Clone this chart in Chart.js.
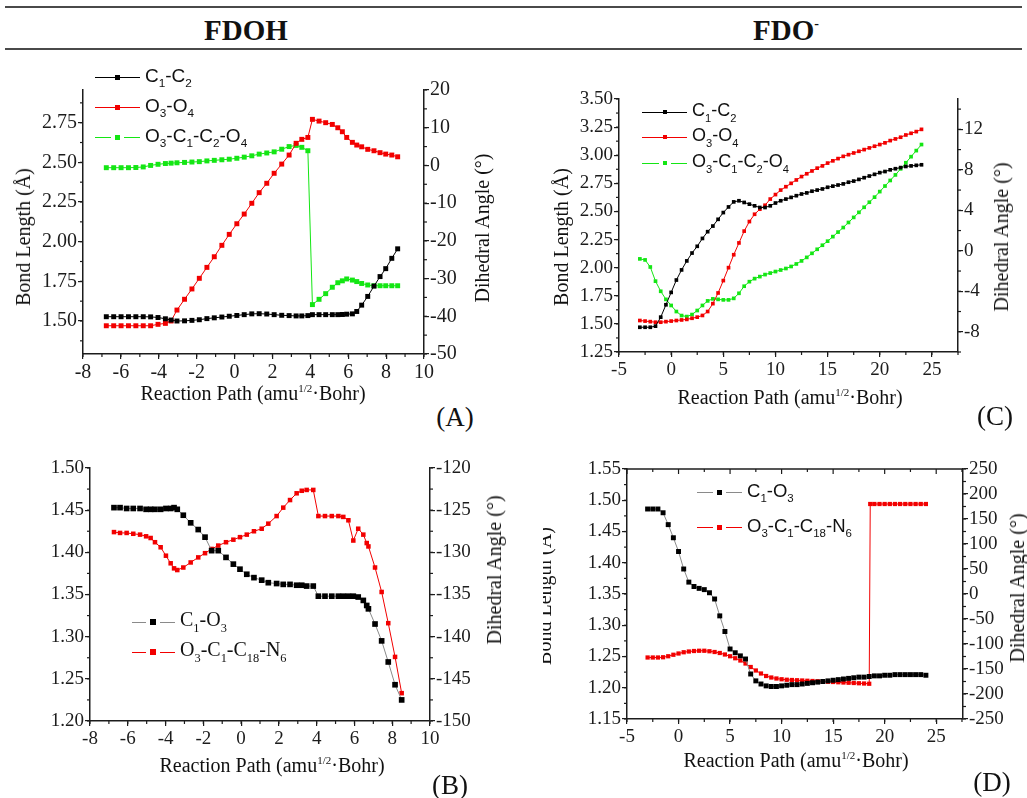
<!DOCTYPE html>
<html>
<head>
<meta charset="utf-8">
<title>FDOH / FDO- reaction path</title>
<script src="https://cdn.jsdelivr.net/npm/chart.js@4.4.1/dist/chart.umd.min.js"></script>
<style>
  html, body { margin: 0; padding: 0; background: #fff; }
  body { position: relative; width: 1027px; height: 798px; overflow: hidden; font-family: "Liberation Serif", "Times New Roman", serif; color: #111; }
  canvas { position: absolute; }
  .rule { position: absolute; left: 5px; width: 1017px; height: 2px; background: #4a4a4a; }
  .t { position: absolute; white-space: nowrap; transform: translate(-50%, -50%); line-height: 1; }
  .v { transform: translate(-50%, -50%) rotate(-90deg); }
  .head { font-weight: bold; font-size: 29px; }
  .ax { font-size: 20px; }
  .tag { font-size: 27px; }
  sup.s { font-size: 0.55em; vertical-align: 0.75em; }
  .lg { position: absolute; white-space: nowrap; line-height: 1; transform: translateY(-50%); color: #111; }
  .lg sub { font-size: 0.62em; vertical-align: -0.45em; }
  .clip { position: absolute; overflow: hidden; }
</style>
</head>
<body>

<div class="rule" style="top:6px"></div>
<div class="rule" style="top:48px"></div>
<div class="t head" style="left:246px;top:30px">FDOH</div>
<div class="t head" style="left:786px;top:30px">FDO<sup style="font-size:14px;vertical-align:12px">-</sup></div>

<canvas id="chartA" width="500" height="314" style="left:0px;top:76px"></canvas>
<canvas id="chartB" width="500" height="303" style="left:0px;top:454px"></canvas>
<canvas id="chartC" width="507" height="303" style="left:520px;top:85px"></canvas>
<canvas id="chartD" width="507" height="300" style="left:520px;top:455px"></canvas>

<div class="t ax v" style="left:23px;top:237px">Bond Length (Å)</div>
<div class="t ax v" style="left:482px;top:228px">Dihedral Angle (°)</div>
<div class="t ax" style="left:253px;top:393px">Reaction Path (amu<sup class="s">1/2</sup>·Bohr)</div>
<div class="t tag" style="left:455px;top:417px">(A)</div>

<div class="t ax v" style="left:494px;top:570px">Dihedral Angle (°)</div>
<div class="t ax" style="left:272px;top:765px">Reaction Path (amu<sup class="s">1/2</sup>·Bohr)</div>
<div class="t tag" style="left:450px;top:785px">(B)</div>

<div class="t ax v" style="left:561px;top:237px">Bond Length (Å)</div>
<div class="t ax v" style="left:1001px;top:237px">Dihedral Angle (°)</div>
<div class="t ax" style="left:790px;top:397px">Reaction Path (amu<sup class="s">1/2</sup>·Bohr)</div>
<div class="t tag" style="left:995px;top:416px">(C)</div>

<div class="clip" style="left:543px;top:420px;width:60px;height:378px">
  <div class="t ax v" style="left:1px;top:176px">Bond Length (Å)</div>
</div>
<div class="t ax v" style="left:1017px;top:588px">Dihedral Angle (°)</div>
<div class="t ax" style="left:796px;top:760px">Reaction Path (amu<sup class="s">1/2</sup>·Bohr)</div>
<div class="t tag" style="left:992px;top:782px">(D)</div>

<script>
// ---------- data ----------
// (A) FDOH: C1-C2 and O3-O4 bond lengths (Å), O3-C1-C2-O4 dihedral (°)
const aPath = [-6.77, -6.38, -5.99, -5.60, -5.21, -4.82, -4.43, -4.04, -3.65, -3.35, -3.04, -2.64, -2.25, -1.86, -1.46,
  -1.07, -0.67, -0.28, 0.12, 0.51, 0.91, 1.30, 1.70, 2.09, 2.49, 2.88, 3.25, 3.55, 3.87, 4.11, 4.46, 4.81, 5.16,
  5.45, 5.69, 5.92, 6.22, 6.45, 6.71, 7.03, 7.36, 7.68, 7.98, 8.30, 8.61];
const aC1C2 = [1.527, 1.527, 1.527, 1.527, 1.527, 1.527, 1.526, 1.522, 1.514, 1.506, 1.500, 1.501, 1.504, 1.508, 1.515,
  1.520, 1.525, 1.530, 1.535, 1.540, 1.545, 1.546, 1.544, 1.540, 1.536, 1.534, 1.532, 1.532, 1.534, 1.540, 1.540, 1.540, 1.540,
  1.540, 1.541, 1.543, 1.545, 1.560, 1.600, 1.655, 1.720, 1.780, 1.830, 1.895, 1.955];
const aO3O4 = [1.470, 1.470, 1.470, 1.470, 1.470, 1.470, 1.470, 1.479, 1.485, 1.500, 1.569, 1.637, 1.702, 1.769, 1.838,
  1.905, 1.977, 2.046, 2.113, 2.174, 2.242, 2.309, 2.368, 2.431, 2.489, 2.546, 2.620, 2.645, 2.657, 2.771, 2.760, 2.750, 2.739,
  2.718, 2.693, 2.657, 2.626, 2.609, 2.598, 2.582, 2.573, 2.561, 2.552, 2.546, 2.535];
const aDihedral = [-0.6, -0.6, -0.6, -0.6, -0.55, -0.4, 0.0, 0.3, 0.5, 0.6, 0.7, 0.8, 0.9, 1.0, 1.2,
  1.35, 1.5, 1.65, 1.9, 2.2, 2.55, 3.0, 3.3, 3.6, 4.3, 5.0, 5.3, 4.8, 3.9, -36.9, -35.5, -34.0, -32.3,
  -31.1, -30.6, -30.1, -30.4, -30.8, -31.3, -31.7, -31.9, -31.9, -31.9, -31.9, -31.9];

// (B) FDOH: C1-O3 bond length (Å), O3-C1-C18-N6 dihedral (°)
const bPath = [-6.73, -6.41, -6.06, -5.71, -5.35, -5.03, -4.79, -4.56, -4.26, -3.98, -3.73, -3.55, -3.38, -3.06, -2.67,
  -2.27, -1.91, -1.56, -1.21, -0.80, -0.41, -0.06, 0.30, 0.68, 1.09, 1.44, 1.88, 2.23, 2.59, 2.94, 3.21, 3.47, 3.82,
  4.09, 4.44, 4.80, 5.15, 5.41, 5.68, 5.94, 6.20, 6.47, 6.65, 6.74, 7.09, 7.44, 7.79, 8.15, 8.50];
const bC1O3 = [1.453, 1.453, 1.452, 1.452, 1.452, 1.451, 1.451, 1.451, 1.451, 1.452, 1.452, 1.453, 1.451, 1.444, 1.435,
  1.427, 1.418, 1.402, 1.402, 1.394, 1.386, 1.380, 1.374, 1.370, 1.367, 1.364, 1.363, 1.362, 1.362, 1.361, 1.361, 1.360, 1.360,
  1.348, 1.348, 1.348, 1.348, 1.348, 1.348, 1.348, 1.347, 1.343, 1.337, 1.333, 1.315, 1.295, 1.270, 1.243, 1.225];
const bDihedral = [-127.6, -127.7, -127.7, -127.8, -127.9, -128.1, -128.3, -128.8, -129.4, -130.4, -131.3, -131.9, -132.1, -131.8, -131.2,
  -130.6, -130.1, -129.6, -129.2, -128.8, -128.5, -128.2, -127.9, -127.5, -127.2, -126.6, -125.7, -124.7, -123.8, -123.0, -122.7, -122.6, -122.6,
  -125.7, -125.7, -125.7, -125.7, -125.8, -126.2, -128.6, -127.2, -127.9, -128.9, -129.3, -131.8, -134.7, -138.4, -142.4, -146.7];

// (C) FDO-: C1-C2 and O3-O4 bond lengths (Å), O3-C1-C2-O4 dihedral (°)
const cPath = [-3, -2.5, -2, -1.5, -1, -0.5, 0, 0.5, 1, 1.5, 2, 2.5, 3, 3.5, 4, 4.5, 5, 5.5, 6, 6.5,
  7, 7.5, 8, 8.5, 9, 9.5, 10, 10.5, 11, 11.5, 12, 12.5, 13, 13.5, 14, 14.5, 15, 15.5, 16, 16.5,
  17, 17.5, 18, 18.5, 19, 19.5, 20, 20.5, 21, 21.5, 22, 22.5, 23, 23.5, 24];
const cC1C2 = [1.47, 1.47, 1.47, 1.48, 1.56, 1.67, 1.78, 1.89, 1.98, 2.06, 2.13, 2.19, 2.26, 2.32, 2.37, 2.43, 2.49, 2.54, 2.585, 2.595,
  2.58, 2.565, 2.55, 2.535, 2.535, 2.55, 2.575, 2.595, 2.61, 2.625, 2.64, 2.655, 2.665, 2.68, 2.69, 2.70, 2.715, 2.725, 2.735, 2.745,
  2.76, 2.77, 2.785, 2.80, 2.815, 2.83, 2.845, 2.855, 2.87, 2.88, 2.89, 2.90, 2.905, 2.91, 2.915];
const cO3O4 = [1.53, 1.525, 1.52, 1.515, 1.515, 1.52, 1.525, 1.53, 1.535, 1.54, 1.55, 1.56, 1.575, 1.61, 1.68, 1.775, 1.885, 2.00, 2.115, 2.22,
  2.325, 2.41, 2.475, 2.52, 2.555, 2.61, 2.65, 2.69, 2.72, 2.75, 2.78, 2.81, 2.835, 2.86, 2.885, 2.905, 2.93, 2.95, 2.97, 2.99,
  3.005, 3.02, 3.035, 3.05, 3.065, 3.08, 3.095, 3.11, 3.13, 3.145, 3.16, 3.18, 3.195, 3.21, 3.23];
const cDihedral = [-0.8, -0.9, -1.6, -3.0, -4.0, -4.8, -5.4, -6.0, -6.4, -6.5, -6.3, -5.9, -5.4, -4.95, -4.75, -4.8, -4.85, -4.85, -4.7, -4.2,
  -3.5, -3.05, -2.75, -2.55, -2.35, -2.2, -2.05, -1.9, -1.75, -1.55, -1.3, -1.0, -0.65, -0.25, 0.15, 0.55, 0.95, 1.4, 1.85, 2.3,
  2.8, 3.3, 3.8, 4.3, 4.8, 5.3, 5.85, 6.4, 6.95, 7.5, 8.1, 8.7, 9.3, 9.9, 10.5];

// (D) FDO-: C1-O3 bond length (Å), O3-C1-C18-N6 dihedral (°)
const dPath = cPath;
const dC1O3 = [1.486, 1.486, 1.486, 1.480, 1.461, 1.440, 1.418, 1.390, 1.369, 1.362, 1.359, 1.357, 1.352, 1.342, 1.315, 1.290, 1.262, 1.256, 1.251, 1.246,
  1.222, 1.211, 1.206, 1.203, 1.202, 1.202, 1.203, 1.204, 1.205, 1.205, 1.206, 1.207, 1.208, 1.209, 1.210, 1.211, 1.212, 1.213, 1.214, 1.215,
  1.216, 1.217, 1.217, 1.218, 1.219, 1.219, 1.220, 1.220, 1.221, 1.221, 1.221, 1.221, 1.221, 1.221, 1.220];
const dDihedralPath = [-3, -2.5, -2, -1.5, -1, -0.5, 0, 0.5, 1, 1.5, 2, 2.5, 3, 3.5, 4, 4.5, 5, 5.5, 6, 6.5,
  7, 7.5, 8, 8.5, 9, 9.5, 10, 10.5, 11, 11.5, 12, 12.5, 13, 13.5, 14, 14.5, 15, 15.5, 16, 16.5,
  17, 17.5, 18, 18.5, 18.6, 19, 19.5, 20, 20.5, 21, 21.5, 22, 22.5, 23, 23.5, 24];
const dDihedral = [-127, -127, -127, -126.5, -124.5, -121.5, -119, -116.5, -115, -114, -113.5, -113.5, -114.5, -116, -118, -121, -124.5, -128.5, -133, -139,
  -146, -153, -159, -164, -167, -169, -170.5, -171.5, -172, -172.5, -173, -173.5, -174, -174.5, -175, -175.5, -176, -176.5, -177, -177.5,
  -178, -178.5, -179, -179.5, 180, 180, 180, 180, 180, 180, 180, 180, 180, 180, 180, 180];

// tick labels
const abXTicks = [-8, -6, -4, -2, 0, 2, 4, 6, 8, 10];
const cdXTicks = [-5, 0, 5, 10, 15, 20, 25];
const aLeftTicks = [1.50, 1.75, 2.00, 2.25, 2.50, 2.75];
const aRightTicks = [-50, -40, -30, -20, -10, 0, 10, 20];
const bLeftTicks = [1.20, 1.25, 1.30, 1.35, 1.40, 1.45, 1.50];
const bRightTicks = [-150, -145, -140, -135, -130, -125, -120];
const cLeftTicks = [1.25, 1.50, 1.75, 2.00, 2.25, 2.50, 2.75, 3.00, 3.25, 3.50];
const cRightTicks = [-8, -4, 0, 4, 8, 12];
const dLeftTicks = [1.15, 1.20, 1.25, 1.30, 1.35, 1.40, 1.45, 1.50, 1.55];
const dRightTicks = [-250, -200, -150, -100, -50, 0, 50, 100, 150, 200, 250];

// legend labels
const labC1C2 = 'C<sub>1</sub>-C<sub>2</sub>';
const labO3O4 = 'O<sub>3</sub>-O<sub>4</sub>';
const labO3C1C2O4 = 'O<sub>3</sub>-C<sub>1</sub>-C<sub>2</sub>-O<sub>4</sub>';
const labC1O3 = 'C<sub>1</sub>-O<sub>3</sub>';
const labO3C1C18N6 = 'O<sub>3</sub>-C<sub>1</sub>-C<sub>18</sub>-N<sub>6</sub>';

// ---------- drawing ----------
const INK = '#1c1c1c';
const RED = '#f20000';
const GREEN = '#14e614';
const GREY = '#8a8a8a';
const SERIF = "'Liberation Serif', 'Times New Roman', Times, serif";
const SANS = '"Liberation Sans", Arial, sans-serif';

Chart.defaults.font.family = SERIF;
Chart.defaults.font.size = 19;
Chart.defaults.color = INK;

// Origin-style minor ticks (and the closed top edge of panel D)
const minorTicks = {
  id: 'minorTicks',
  afterDatasetsDraw(chart, args, o) {
    if (!o || !o.steps) return;
    const ctx = chart.ctx, ca = chart.chartArea;
    ctx.save();
    ctx.strokeStyle = INK;
    ctx.lineWidth = 1.2;
    Object.keys(o.steps).forEach(id => {
      const s = chart.scales[id], st = o.steps[id];
      const k0 = Math.ceil(s.min / st - 1e-6), k1 = Math.floor(s.max / st + 1e-6);
      for (let k = k0; k <= k1; k++) {
        const p = s.getPixelForValue(k * st);
        ctx.beginPath();
        if (id === 'x') { ctx.moveTo(p, ca.bottom); ctx.lineTo(p, ca.bottom + 3); }
        else if (s.position === 'left') { ctx.moveTo(ca.left, p); ctx.lineTo(ca.left - 3, p); }
        else { ctx.moveTo(ca.right, p); ctx.lineTo(ca.right + 3, p); }
        ctx.stroke();
      }
      if (id === 'x' && o.top) {
        ctx.lineWidth = 1.5;
        ctx.beginPath(); ctx.moveTo(ca.left, ca.top); ctx.lineTo(ca.right, ca.top); ctx.stroke();
        ctx.lineWidth = 1.2;
        for (let k = k0; k <= k1; k++) {
          const p = s.getPixelForValue(k * st);
          ctx.beginPath(); ctx.moveTo(p, ca.top); ctx.lineTo(p, ca.top + (k % 2 === 0 ? 5 : 3)); ctx.stroke();
        }
      }
    });
    ctx.restore();
  }
};

function series(xs, ys, axis, color, line, r) {
  return {
    data: xs.map((x, i) => ({ x: x, y: ys[i] })),
    yAxisID: axis, showLine: true, borderColor: line, borderWidth: 1,
    pointStyle: 'rect', pointRadius: r, pointHoverRadius: r,
    pointBackgroundColor: color, pointBorderWidth: 0
  };
}

function axis(extra) {
  return Object.assign({
    type: 'linear',
    grid: { drawOnChartArea: false, tickLength: 5, color: INK, lineWidth: 1.2 },
    border: { color: INK, width: 1.5 }
  }, extra);
}

function panel(id, p) {
  const tickFont = () => ({ family: SERIF, size: p.font });
  new Chart(document.getElementById(id), {
    type: 'scatter',
    data: { datasets: p.series },
    options: {
      responsive: false, animation: false, events: [],
      layout: { padding: { top: 14, left: 0, right: 0, bottom: 0 } },
      plugins: { legend: { display: false }, tooltip: { enabled: false }, minorTicks: p.minor },
      scales: {
        x: axis({
          min: p.x[0], max: p.x[1],
          afterBuildTicks: s => { s.ticks = p.xTicks.map(v => ({ value: v })); },
          afterFit: s => { s.height = 36; },
          ticks: { font: tickFont(), color: INK, padding: 2, maxRotation: 0, autoSkip: false, callback: v => String(v) }
        }),
        yL: axis({
          position: 'left', min: p.yL[0], max: p.yL[1],
          afterBuildTicks: s => { s.ticks = p.yLTicks.map(v => ({ value: v })); },
          afterFit: s => { s.width = p.wL; },
          ticks: { font: tickFont(), color: INK, padding: 1, autoSkip: false, callback: v => v.toFixed(2) }
        }),
        yR: axis({
          position: 'right', min: p.yR[0], max: p.yR[1],
          afterBuildTicks: s => { s.ticks = p.yRTicks.map(v => ({ value: v })); },
          afterFit: s => { s.width = p.wR; },
          ticks: { font: tickFont(), color: INK, padding: 1, autoSkip: false, callback: v => String(v) }
        })
      }
    },
    plugins: [minorTicks]
  });
}

panel('chartA', {
  font: 20, wL: 83, wR: 76,
  x: [-8, 10], yL: [1.292, 2.956], yR: [-50, 20],
  xTicks: abXTicks, yLTicks: aLeftTicks, yRTicks: aRightTicks,
  minor: { steps: { x: 1, yL: 0.125, yR: 5 } },
  series: [
    series(aPath, aC1C2, 'yL', '#000', '#000', 3.5),
    series(aPath, aO3O4, 'yL', RED, RED, 3.5),
    series(aPath, aDihedral, 'yR', GREEN, GREEN, 3.5)
  ]
});

panel('chartB', {
  font: 19, wL: 90, wR: 70,
  x: [-8, 10], yL: [1.20, 1.50], yR: [-150, -120],
  xTicks: abXTicks, yLTicks: bLeftTicks, yRTicks: bRightTicks,
  minor: { steps: { x: 1, yL: 0.025, yR: 2.5 } },
  series: [
    series(bPath, bC1O3, 'yL', '#000', GREY, 4),
    series(bPath, bDihedral, 'yR', RED, RED, 3.2)
  ]
});

panel('chartC', {
  font: 19, wL: 99, wR: 69,
  x: [-5, 27.5], yL: [1.25, 3.50], yR: [-10, 15],
  xTicks: cdXTicks, yLTicks: cLeftTicks, yRTicks: cRightTicks,
  minor: { steps: { x: 2.5, yL: 0.125, yR: 2 } },
  series: [
    series(cPath, cC1C2, 'yL', '#000', '#000', 2.6),
    series(cPath, cO3O4, 'yL', RED, RED, 2.6),
    series(cPath, cDihedral, 'yR', GREEN, GREEN, 2.6)
  ]
});

panel('chartD', {
  font: 19, wL: 107, wR: 64,
  x: [-5, 27.6], yL: [1.15, 1.55], yR: [-250, 250],
  xTicks: cdXTicks, yLTicks: dLeftTicks, yRTicks: dRightTicks,
  minor: { steps: { x: 2.5, yL: 0.025, yR: 25 }, top: true },
  series: [
    series(dPath, dC1O3, 'yL', '#000', GREY, 3.5),
    series(dDihedralPath, dDihedral, 'yR', RED, RED, 3)
  ]
});

// legends (HTML, so subscripts stay real text)
function legend(rows, o) {
  rows.forEach((r, i) => {
    const y = o.y[i];
    const ln = document.createElement('div');
    ln.style.cssText = 'position:absolute;left:' + o.x0 + 'px;top:' + (y - 0.5) + 'px;width:' + (o.x1 - o.x0) +
      'px;height:0;border-top:1px solid ' + r.line + ';';
    document.body.appendChild(ln);
    const sq = document.createElement('div');
    sq.style.cssText = 'position:absolute;left:' + (o.xm - o.sq / 2) + 'px;top:' + (y - o.sq / 2) + 'px;width:' + o.sq +
      'px;height:' + o.sq + 'px;background:' + r.color + ';' + (r.gap ? 'box-shadow:0 0 0 4px #fff;' : '');
    document.body.appendChild(sq);
    const tx = document.createElement('div');
    tx.className = 'lg';
    tx.style.left = o.xt + 'px';
    tx.style.top = y + 'px';
    tx.style.font = o.font;
    tx.innerHTML = r.label;
    document.body.appendChild(tx);
  });
}

legend([
  { label: labC1C2, color: '#000', line: '#000' },
  { label: labO3O4, color: RED, line: RED },
  { label: labO3C1C2O4, color: GREEN, line: GREEN, gap: true }
], { y: [77, 107, 137], x0: 95, x1: 140, xm: 117, sq: 5, xt: 145, font: '19px ' + SANS });

legend([
  { label: labC1O3, color: '#000', line: GREY, gap: true },
  { label: labO3C1C18N6, color: RED, line: RED, gap: true }
], { y: [622, 652], x0: 132, x1: 175, xm: 153, sq: 6, xt: 180, font: '20px ' + SERIF });

legend([
  { label: labC1C2, color: '#000', line: '#000' },
  { label: labO3O4, color: RED, line: RED },
  { label: labO3C1C2O4, color: GREEN, line: GREEN, gap: true }
], { y: [112, 137, 163], x0: 642, x1: 687, xm: 665, sq: 4, xt: 692, font: '18px ' + SANS });

legend([
  { label: labC1O3, color: '#000', line: GREY, gap: true },
  { label: labO3C1C18N6, color: RED, line: RED, gap: true }
], { y: [492, 527], x0: 697, x1: 742, xm: 719, sq: 5, xt: 747, font: '18.5px ' + SANS });
</script>
</body>
</html>
